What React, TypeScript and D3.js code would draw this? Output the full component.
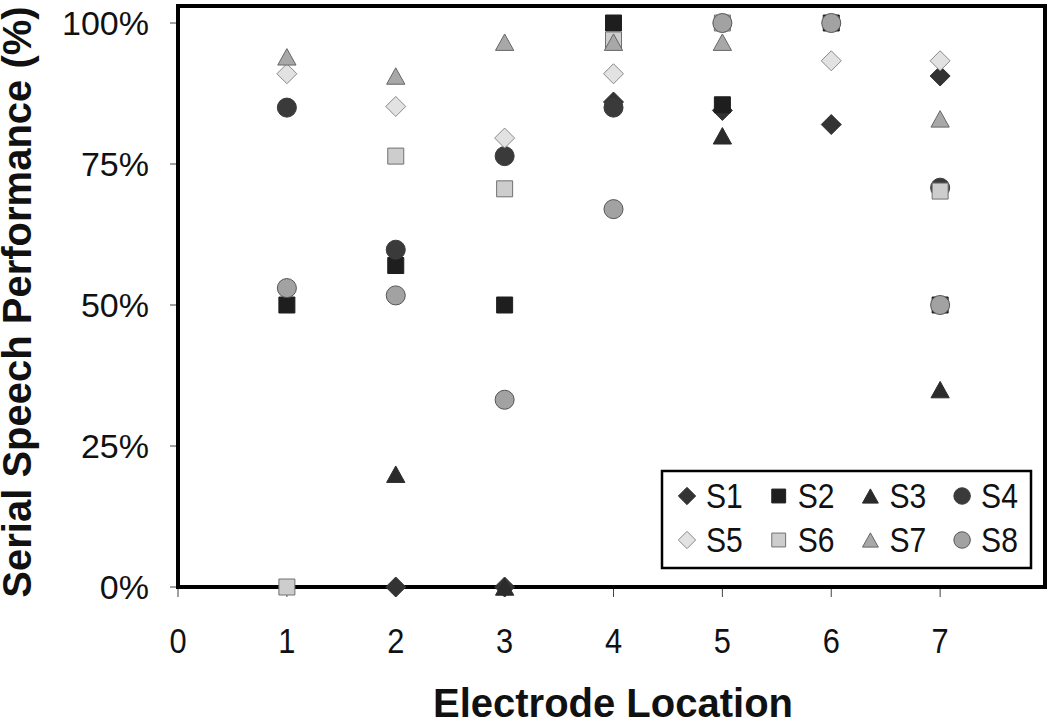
import React from 'react';
import * as d3 from 'd3';

// electrode locations on the x axis
const locations = [1, 2, 3, 4, 5, 6, 7];
const xTicks = [0, 1, 2, 3, 4, 5, 6, 7];
const yTicks = [0, 0.25, 0.5, 0.75, 1];

// serial speech performance (%) per subject, null = no point
const s1 = [null, 0, 0, 86, 84.5, 82, 90.6];
const s2 = [50, 57, 50, 100, 85.5, 100, 50];
const s3 = [null, 20, 0, null, 80, null, 35];
const s4 = [85, 59.8, 76.4, 85, null, null, 70.8];
const s5 = [91, 85.2, 79.6, 91, null, 93.3, 93.3];
const s6 = [0, 76.4, 70.6, 97, 100, null, 70.2];
const s7 = [94, 90.6, 96.6, 96.6, 96.6, null, 83];
const s8 = [53, 51.7, 33.2, 67, 100, 100, 50];

const seriesNames = ['S1', 'S2', 'S3', 'S4', 'S5', 'S6', 'S7', 'S8'];
const seriesValues = [s1, s2, s3, s4, s5, s6, s7, s8];

const diamond = {
  draw(ctx: any, size: number) {
    const r = Math.sqrt(size / 2);
    ctx.moveTo(0, -r); ctx.lineTo(r, 0); ctx.lineTo(0, r); ctx.lineTo(-r, 0); ctx.closePath();
  }
};
const triangle = {
  draw(ctx: any, size: number) {
    const w = Math.sqrt(size * 2 / 0.9);
    const h = w * 0.9;
    ctx.moveTo(0, -h / 2); ctx.lineTo(w / 2, h / 2); ctx.lineTo(-w / 2, h / 2); ctx.closePath();
  }
};

const styles = [
  { type: diamond, size: 200, fill: '#333333', stroke: '#333333' },
  { type: d3.symbolSquare, size: 256, fill: '#1e1e1e', stroke: '#1e1e1e' },
  { type: triangle, size: 150, fill: '#2b2b2b', stroke: '#2b2b2b' },
  { type: d3.symbolCircle, size: 285, fill: '#3a3a3a', stroke: '#3a3a3a' },
  { type: diamond, size: 200, fill: '#e2e2e2', stroke: '#8a8a8a' },
  { type: d3.symbolSquare, size: 256, fill: '#cdcdcd', stroke: '#707070' },
  { type: triangle, size: 150, fill: '#a8a8a8', stroke: '#666666' },
  { type: d3.symbolCircle, size: 285, fill: '#a2a2a2', stroke: '#555555' },
];

const FONT = '"Liberation Sans", Arial, sans-serif';

export default function App() {
  const x = d3.scaleLinear().domain([0, 8]).range([178, 1049]);
  const y = d3.scaleLinear().domain([0, 1]).range([587, 23]);
  const fmt = d3.format('.0%');

  return (
    <svg width={1050} height={719} style={{ position: 'absolute', left: 0, top: 0, background: '#fff' }}>
      {/* y ticks */}
      {yTicks.map(t => (
        <g key={'y' + t}>
          <line x1={170} x2={178} y1={y(t)} y2={y(t)} stroke="#444" strokeWidth={1} />
          <text x={149} y={y(t)} dy="0.36em" textAnchor="end" fontFamily={FONT} fontSize={34} fill="#111">{fmt(t)}</text>
        </g>
      ))}
      {/* x ticks */}
      {xTicks.map(t => (
        <g key={'x' + t}>
          <line x1={x(t)} x2={x(t)} y1={587} y2={597} stroke="#444" strokeWidth={1} />
          <text x={x(t)} y={653} textAnchor="middle" fontFamily={FONT} fontSize={35} fill="#111"
            transform={`translate(${x(t)},0) scale(0.88,1) translate(${-x(t)},0)`}>{t}</text>
        </g>
      ))}
      {/* frame */}
      <rect x={178} y={6} width={867} height={581} fill="none" stroke="#000" strokeWidth={4} />

      {/* points */}
      {seriesValues.map((vals, si) => (
        <g key={seriesNames[si]}>
          {vals.map((v, i) => v == null ? null : (
            <path key={i}
              d={d3.symbol().type(styles[si].type as any).size(styles[si].size)() as string}
              transform={`translate(${x(locations[i])},${y(v / 100)})`}
              fill={styles[si].fill} stroke={styles[si].stroke} strokeWidth={1} />
          ))}
        </g>
      ))}

      {/* legend */}
      <rect x={662} y={471} width={369} height={97} fill="#fff" stroke="#000" strokeWidth={2.5} />
      {seriesNames.map((name, si) => {
        const col = si % 4;
        const row = Math.floor(si / 4);
        const mx = 687 + col * 91.7;
        const my = 496 + row * 44;
        return (
          <g key={'lg' + name}>
            <path d={d3.symbol().type(styles[si].type as any).size(styles[si].size * 0.75)() as string}
              transform={`translate(${mx},${my})`} fill={styles[si].fill} stroke={styles[si].stroke} strokeWidth={1} />
            <text x={mx + 19} y={my + 12} fontFamily={FONT} fontSize={35} fill="#111"
              transform={`translate(${mx + 19},0) scale(0.86,1) translate(${-(mx + 19)},0)`}>{name}</text>
          </g>
        );
      })}

      {/* axis titles */}
      <text x={613} y={717} textAnchor="middle" fontFamily={FONT} fontWeight="bold" fontSize={40} fill="#111">Electrode Location</text>
      <text transform="translate(31,302) rotate(-90)" textAnchor="middle" fontFamily={FONT} fontWeight="bold" fontSize={40} fill="#111">Serial Speech Performance (%)</text>
    </svg>
  );
}
